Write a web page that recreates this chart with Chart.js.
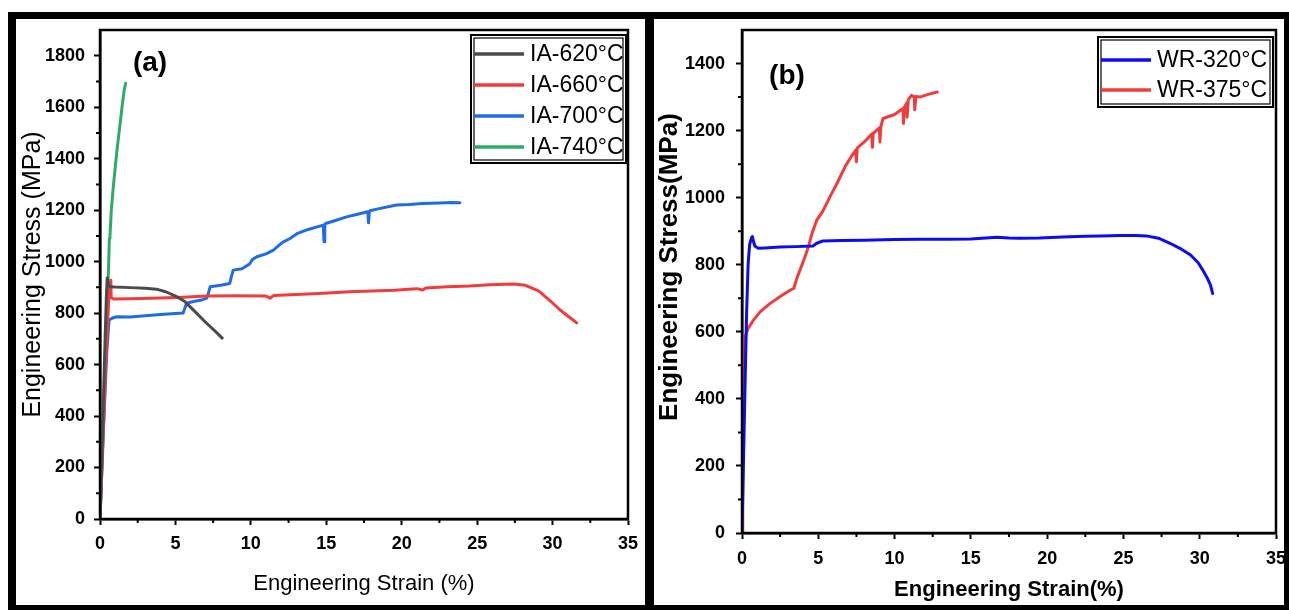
<!DOCTYPE html>
<html>
<head>
<meta charset="utf-8">
<title>Engineering stress-strain curves</title>
<script src="https://cdn.jsdelivr.net/npm/chart.js@4.4.0/dist/chart.umd.min.js"></script>
<style>
    html, body { margin: 0; padding: 0; background: #fff; }
    #frame { position: absolute; left: 8px; top: 12px; width: 1281px; height: 598px; background: #000; }
    .panel { position: absolute; top: 19px; height: 586px; background: #fff; }
    #panelA { left: 16px; width: 629px; }
    #panelB { left: 654px; width: 630px; }
    canvas { display: block; }
</style>
</head>
<body>
<div id="frame"></div>
<div class="panel" id="panelA"><canvas id="chartA" width="629" height="586"></canvas></div>
<div class="panel" id="panelB"><canvas id="chartB" width="630" height="586"></canvas></div>

<script>
// --- panel (a): intercritically annealed samples ---
const ia620Strain = [0, 0.15, 0.3, 0.42, 0.48, 0.55, 0.7, 1.0, 2.0, 3.0, 3.75, 4.4, 5.08, 5.6, 5.96, 6.4, 6.85, 7.3, 7.7, 8.1];
const ia620Stress = [0, 300, 620, 860, 936, 910, 902, 901, 899, 897, 893, 882, 864, 846, 825, 800, 773, 748, 726, 703];

const ia660Strain = [0, 0.2, 0.4, 0.6, 0.72, 0.74, 0.9, 2, 4, 5.5, 7.07, 9, 11, 11.27, 11.5, 13, 14.5, 16.57, 18, 19.5, 21.0, 21.4, 21.6, 23, 24.5, 25.85, 27.4, 28.2, 29.07, 29.9, 30.5, 31.1, 31.6];
const ia660Stress = [0, 320, 640, 880, 928, 860, 855, 856, 859, 862, 866, 867, 866, 858, 868, 872, 876, 883, 886, 889, 895, 890, 898, 902, 905, 910, 913, 908, 886, 845, 812, 785, 762];

const ia700Strain = [0, 0.2, 0.45, 0.6, 0.8, 1.1, 2, 3, 4, 5, 5.5, 5.6, 5.74, 6.2, 6.8, 7.07, 7.2, 7.3, 8.0, 8.6, 8.7, 8.83, 9.4, 9.9, 10.1, 10.4, 11.0, 11.5, 11.8, 12.1, 12.6, 13.1, 13.8, 14.8, 14.85, 14.9, 14.95, 15.5, 16.35, 17.0, 17.75, 17.8, 17.85, 17.9, 18.5, 19.66, 20.5, 21.4, 22.5, 23.3, 23.86];
const ia700Stress = [0, 300, 650, 773, 780, 786, 785, 790, 795, 798, 800, 815, 838, 845, 852, 858, 880, 902, 908, 915, 940, 967, 972, 990, 1008, 1019, 1030, 1045, 1060, 1075, 1090, 1110, 1125, 1142, 1077, 1140, 1148, 1158, 1174, 1183, 1194, 1151, 1190, 1198, 1206, 1220, 1222, 1226, 1228, 1230, 1229];

const ia740Strain = [0, 0.15, 0.3, 0.45, 0.58, 0.62, 0.66, 0.75, 0.88, 1.0, 1.1, 1.2, 1.3, 1.44, 1.5, 1.55, 1.6, 1.7];
const ia740Stress = [0, 260, 520, 780, 1000, 1090, 1100, 1200, 1290, 1360, 1420, 1470, 1520, 1590, 1620, 1640, 1665, 1693];

// --- panel (b): warm rolled samples ---
const wr320Strain = [0, 0.1, 0.2, 0.3, 0.4, 0.5, 0.62, 0.68, 0.75, 0.85, 1.07, 1.5, 2.5, 3.5, 4.65, 4.9, 5.3, 6.5, 8, 10, 11.7, 13.5, 15, 16.7, 17.5, 18.2, 19.5, 21, 22.5, 23.5, 24.8, 25.8, 26.5, 27.3, 28.05, 28.7, 29.4, 29.9, 30.2, 30.5, 30.7, 30.85];
const wr320Stress = [0, 220, 440, 655, 800, 860, 880, 884, 870, 855, 849, 850, 853, 854, 856, 864, 871, 872, 873, 875, 876, 876, 877, 882, 880, 879, 880, 883, 885, 886, 887, 887, 886, 879, 864, 849, 829, 806, 784, 760, 740, 714];

const wr375Strain = [0, 0.05, 0.1, 0.2, 0.4, 0.74, 1.2, 1.83, 2.5, 3.15, 3.4, 3.6, 3.8, 4.1, 4.35, 4.6, 4.9, 5.3, 5.77, 6.2, 6.75, 7.2, 7.45, 7.5, 7.55, 8.1, 8.5, 8.55, 8.6, 9.0, 9.04, 9.1, 9.24, 10.0, 10.55, 10.58, 10.65, 10.8, 10.82, 10.9, 11.1, 11.3, 11.32, 11.4, 11.66, 12.2, 12.8];
const wr375Stress = [0, 250, 450, 585, 610, 634, 660, 684, 705, 724, 730, 760, 784, 820, 853, 895, 933, 960, 1003, 1040, 1092, 1125, 1142, 1107, 1148, 1170, 1190, 1150, 1192, 1208, 1166, 1212, 1236, 1248, 1266, 1221, 1270, 1282, 1240, 1292, 1305, 1300, 1262, 1302, 1300, 1308, 1315];

const SANS = '"Liberation Sans", Arial, sans-serif';

function toPoints(xs, ys) {
    return xs.map((x, i) => ({ x: x, y: ys[i] }));
}

function series(label, color, xs, ys) {
    return {
        label: label,
        data: toPoints(xs, ys),
        borderColor: color,
        backgroundColor: color,
        borderWidth: 3,
        pointRadius: 0,
        tension: 0,
        borderJoinStyle: 'round',
        borderCapStyle: 'round'
    };
}

// box around the plot, minor ticks, panel letter and the legend
const panelDecor = {
    id: 'panelDecor',
    afterDatasetsDraw(chart, args, opts) {
        const { ctx, chartArea: area, scales: { x, y } } = chart;
        ctx.save();
        ctx.strokeStyle = '#000';
        ctx.lineWidth = 2.5;
        ctx.strokeRect(area.left, area.top, area.right - area.left, area.bottom - area.top);

        ctx.lineWidth = 2;
        ctx.beginPath();
        for (let v = opts.xMinor; v < x.max; v += 2 * opts.xMinor) {
            const px = x.getPixelForValue(v);
            ctx.moveTo(px, area.bottom);
            ctx.lineTo(px, area.bottom + 4);
        }
        for (let v = opts.yMinor; v < y.max; v += 2 * opts.yMinor) {
            const py = y.getPixelForValue(v);
            ctx.moveTo(area.left, py);
            ctx.lineTo(area.left - 4, py);
        }
        ctx.stroke();

        ctx.fillStyle = '#000';
        ctx.textAlign = 'center';
        ctx.textBaseline = 'middle';
        ctx.font = 'bold 28px ' + SANS;
        ctx.fillText(opts.tag, opts.tagX, opts.tagY);

        const lg = opts.legend;
        ctx.strokeStyle = '#000';
        ctx.lineWidth = 2;
        ctx.strokeRect(lg.left, lg.top, lg.width, lg.height);
        ctx.lineWidth = 1.2;
        ctx.strokeRect(lg.left + 3, lg.top + 3, lg.width - 6, lg.height - 6);
        ctx.textAlign = 'left';
        ctx.font = '23px ' + SANS;
        chart.data.datasets.forEach((ds, i) => {
            const ry = lg.top + lg.firstRow + i * lg.rowGap;
            ctx.strokeStyle = ds.borderColor;
            ctx.lineWidth = 3.5;
            ctx.beginPath();
            ctx.moveTo(lg.left + 3, ry);
            ctx.lineTo(lg.left + 53, ry);
            ctx.stroke();
            ctx.fillStyle = '#000';
            ctx.fillText(ds.label, lg.left + 59, ry + 1);
        });
        ctx.restore();
    }
};

function buildOptions(cfg) {
    const tickGrid = {
        display: true,
        drawOnChartArea: false,
        drawTicks: true,
        tickLength: 6,
        tickWidth: 2,
        tickColor: '#000'
    };
    const axisBorder = { display: true, color: '#000', width: 2.5 };
    const tickFont = { family: SANS, size: 18, weight: 'bold' };
    const plain = v => String(v);
    return {
        responsive: false,
        animation: false,
        events: [],
        layout: { padding: { top: 11, right: cfg.padRight, left: 0, bottom: 0 } },
        plugins: {
            legend: { display: false },
            tooltip: { enabled: false },
            panelDecor: cfg.decor
        },
        scales: {
            x: {
                type: 'linear',
                min: 0,
                max: 35,
                afterFit(s) { s.height = cfg.xHeight; s.paddingLeft = 0; s.paddingRight = 0; },
                grid: tickGrid,
                border: axisBorder,
                ticks: { stepSize: 5, padding: cfg.xTickPad, font: tickFont, color: '#000', maxRotation: 0, autoSkip: false, callback: plain },
                title: { display: true, text: cfg.xTitle, font: cfg.xTitleFont, color: '#000', padding: { top: 0, bottom: cfg.xTitlePad } }
            },
            y: {
                type: 'linear',
                min: 0,
                max: cfg.yMax,
                afterBuildTicks(s) { s.ticks = s.ticks.filter(t => t.value % 200 === 0); },
                afterFit(s) { s.width = cfg.yWidth; s.paddingTop = 0; s.paddingBottom = 0; },
                grid: tickGrid,
                border: axisBorder,
                ticks: { stepSize: 200, padding: cfg.yTickPad, font: tickFont, color: '#000', autoSkip: false, callback: plain },
                title: { display: true, text: cfg.yTitle, font: cfg.yTitleFont, color: '#000', padding: { top: cfg.yTitlePad, bottom: 0 } }
            }
        }
    };
}

new Chart(document.getElementById('chartA'), {
    type: 'line',
    data: {
        datasets: [
            series('IA-620°C', '#4b4b4b', ia620Strain, ia620Stress),
            series('IA-660°C', '#f03c3c', ia660Strain, ia660Stress),
            series('IA-700°C', '#1f6ce4', ia700Strain, ia700Stress),
            series('IA-740°C', '#2faa67', ia740Strain, ia740Stress)
        ]
    },
    options: buildOptions({
        padRight: 17, xHeight: 86, yWidth: 84, yMax: 1900,
        xTickPad: 8, yTickPad: 9,
        xTitle: 'Engineering Strain (%)', xTitleFont: { family: SANS, size: 22 }, xTitlePad: 8,
        yTitle: 'Engineering Stress (MPa)', yTitleFont: { family: SANS, size: 25 }, yTitlePad: 2,
        decor: {
            xMinor: 2.5, yMinor: 100, tag: '(a)', tagX: 134, tagY: 44,
            legend: { left: 455, top: 16, width: 155, height: 128, firstRow: 19, rowGap: 31 }
        }
    }),
    plugins: [panelDecor]
});

new Chart(document.getElementById('chartB'), {
    type: 'line',
    data: {
        datasets: [
            series('WR-320°C', '#0c0cf0', wr320Strain, wr320Stress),
            series('WR-375°C', '#ef3d3d', wr375Strain, wr375Stress)
        ]
    },
    options: buildOptions({
        padRight: 8, xHeight: 72, yWidth: 88, yMax: 1500,
        xTickPad: 9, yTickPad: 11,
        xTitle: 'Engineering Strain(%)', xTitleFont: { family: SANS, size: 22, weight: 'bold' }, xTitlePad: 2,
        yTitle: '    Engineering Stress(MPa)', yTitleFont: { family: SANS, size: 26, weight: 'bold' }, yTitlePad: 0,
        decor: {
            xMinor: 2.5, yMinor: 100, tag: '(b)', tagX: 133, tagY: 57,
            legend: { left: 444, top: 18, width: 175, height: 70, firstRow: 23, rowGap: 30 }
        }
    }),
    plugins: [panelDecor]
});
</script>
</body>
</html>
